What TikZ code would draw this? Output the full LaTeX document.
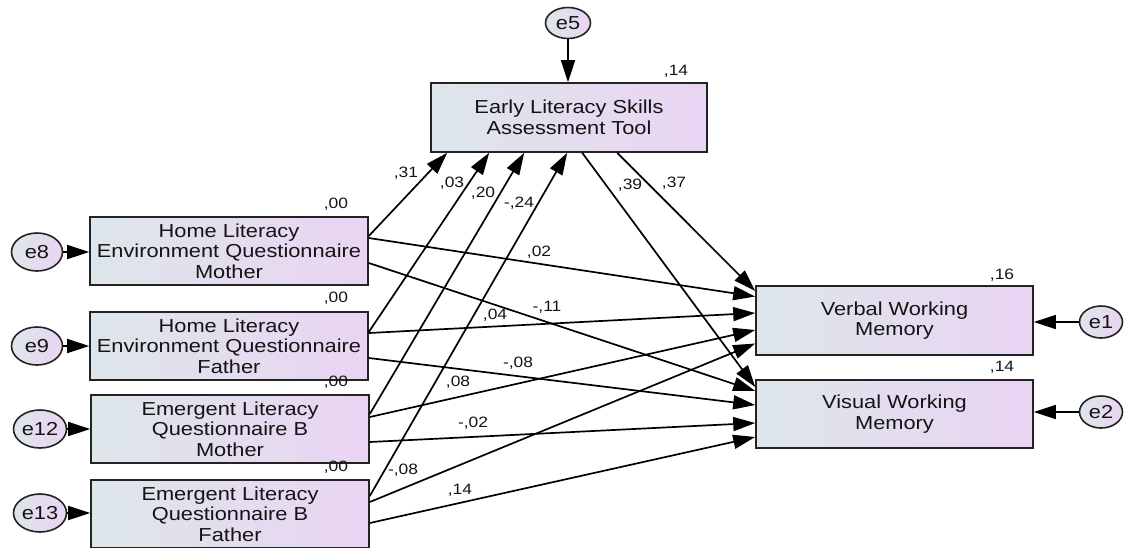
\documentclass[tikz,border=0pt]{standalone}
\usepackage{fontspec}
\setmainfont{Liberation Sans}[FakeStretch=1.16]
\usetikzlibrary{arrows.meta,shapes.geometric}
\definecolor{bL}{RGB}{221,230,234}
\definecolor{bR}{RGB}{234,212,243}
\definecolor{edgec}{RGB}{35,35,35}
\tikzset{
  var/.style={draw=edgec, line width=1.6pt, left color=bL, right color=bR,
    minimum width=278pt, minimum height=68pt, inner sep=0pt, align=center,
    font=\fontsize{18.8}{20.7}\selectfont, text=black!92},
  err/.style={ellipse, draw=edgec, line width=1.6pt, left color=bL, right color=bR,
    inner sep=0pt, font=\fontsize{18.8}{20}\selectfont, text=black!92},
  conn/.style={line width=1.7pt, draw=black, -{Triangle[length=22pt,width=14pt]}},
  coef/.style={font=\fontsize{15}{16}\selectfont, inner sep=0pt, text=black!92}
}
\begin{document}
\begin{tikzpicture}[x=1pt,y=-1pt]
\useasboundingbox (0,0) rectangle (1126,547);
% observed variables
\node[var, minimum width=276pt, minimum height=69pt] (elsat) at (569,117.5) {Early Literacy Skills\\Assessment Tool};
\node[var] (hlm) at (229,251) {Home Literacy\\Environment Questionnaire\\Mother};
\node[var] (hlf) at (229,346) {Home Literacy\\Environment Questionnaire\\Father};
\node[var] (elm) at (230,429) {Emergent Literacy\\Questionnaire B\\Mother};
\node[var] (elf) at (230,514) {Emergent Literacy\\Questionnaire B\\Father};
\node[var, minimum width=277pt, minimum height=69pt] (vwm) at (894.5,320.5) {Verbal Working\\Memory};
\node[var, minimum width=277pt] (viswm) at (894.5,414) {Visual Working\\Memory};
% error terms
\node[err, minimum width=45pt, minimum height=31pt] (e5) at (568,23) {e5};
\node[err, minimum width=51pt, minimum height=38pt] (e8) at (37,252) {e8};
\node[err, minimum width=51pt, minimum height=38pt] (e9) at (37,346) {e9};
\node[err, minimum width=53pt, minimum height=38pt] (e12) at (40,429) {e12};
\node[err, minimum width=53pt, minimum height=38pt] (e13) at (40,513) {e13};
\node[err, minimum width=43pt, minimum height=32pt] (e1) at (1101,322) {e1};
\node[err, minimum width=43pt, minimum height=32pt] (e2) at (1101,412) {e2};
% error arrows
\draw[conn] (e5) -- (elsat.north -| e5);
\draw[conn] (e8) -- (hlm.west |- e8);
\draw[conn] (e9) -- (hlf.west |- e9);
\draw[conn] (e12) -- (elm.west |- e12);
\draw[conn] (e13) -- (elf.west |- e13);
\draw[conn] (e1) -- (vwm.east |- e1);
\draw[conn] (e2) -- (viswm.east |- e2);
% paths into ELSAT
\draw[conn] ([yshift=15pt]hlm.east) -- ([xshift=17pt]elsat.south west);
\draw[conn] ([yshift=14pt]hlf.east) -- ([xshift=59pt]elsat.south west);
\draw[conn] ([yshift=15pt]elm.east) -- ([xshift=94pt]elsat.south west);
\draw[conn] ([yshift=18pt]elf.east) -- ([xshift=137pt]elsat.south west);
% ELSAT to outcomes
\draw[conn] ([xshift=187pt]elsat.south west) -- ([yshift=29.5pt]vwm.west);
\draw[conn] ([xshift=152pt]elsat.south west) -- ([yshift=27pt]viswm.west);
% predictors to Verbal
\draw[conn] ([yshift=13pt]hlm.east) -- ([yshift=24pt]vwm.west);
\draw[conn] ([yshift=13pt]hlf.east) -- ([yshift=7.5pt]vwm.west);
\draw[conn] ([yshift=12pt]elm.east) -- ([yshift=-9.5pt]vwm.west);
\draw[conn] ([yshift=12pt]elf.east) -- ([yshift=-23pt]vwm.west);
% predictors to Visual
\draw[conn] ([yshift=-12pt]hlm.east) -- ([yshift=23pt]viswm.west);
\draw[conn] ([yshift=-12pt]hlf.east) -- ([yshift=9pt]viswm.west);
\draw[conn] ([yshift=-13pt]elm.east) -- ([yshift=-9pt]viswm.west);
\draw[conn] ([yshift=-9pt]elf.east) -- ([yshift=-23pt]viswm.west);
% squared multiple correlations
\node[coef] (r5) at (676,71) {,14};
\node[coef] (r8) at (336,204) {,00};
\node[coef] (r9) at (336,298) {,00};
\node[coef] (r12) at (336,382) {,00};
\node[coef] (r13) at (336,467) {,00};
\node[coef] (r1) at (1002,275) {,16};
\node[coef] (r2) at (1002,367) {,14};
% path coefficients
\node[coef] (c1) at (406,173) {,31};
\node[coef] (c2) at (452,183) {,03};
\node[coef] (c3) at (483,193) {,20};
\node[coef] (c4) at (519,203) {-,24};
\node[coef] (c5) at (630,185) {,39};
\node[coef] (c6) at (674,183) {,37};
\node[coef] (c7) at (539,252) {,02};
\node[coef] (c8) at (547,307) {-,11};
\node[coef] (c9) at (495,315) {,04};
\node[coef] (c10) at (518,363) {-,08};
\node[coef] (c11) at (458,382) {,08};
\node[coef] (c12) at (473,423) {-,02};
\node[coef] (c13) at (403,470) {-,08};
\node[coef] (c14) at (460,490) {,14};
\end{tikzpicture}
\end{document}
